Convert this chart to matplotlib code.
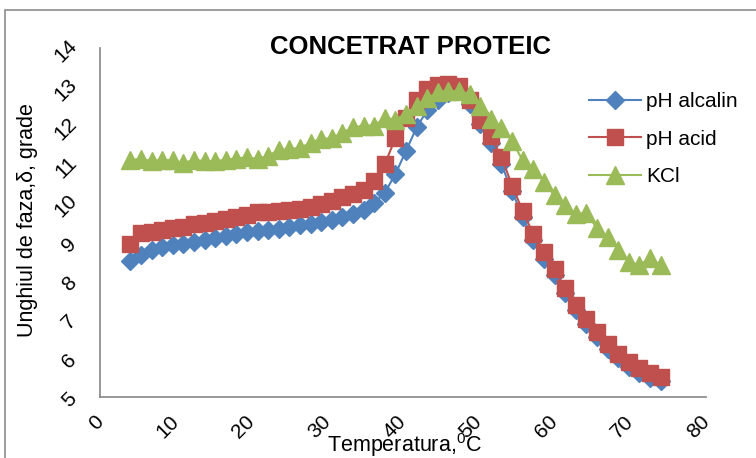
import matplotlib
matplotlib.use("Agg")
import matplotlib.pyplot as plt
from matplotlib.patches import Rectangle
from matplotlib.transforms import ScaledTranslation

plt.rcParams['font.family'] = ['Liberation Sans', 'DejaVu Sans']
plt.rcParams['mathtext.fontset'] = 'custom'
plt.rcParams['mathtext.rm'] = 'Liberation Sans'

# temperatura, grade C
temp = [4.0, 5.4, 6.8, 8.2, 9.6, 11.0, 12.4, 13.8, 15.2, 16.6, 18.0, 19.4, 20.8,
        22.2, 23.6, 25.0, 26.4, 27.8, 29.2, 30.6, 32.0, 33.4, 34.8, 36.2, 37.6,
        39.0, 40.4, 41.8, 43.2, 44.6, 46.0, 47.4, 48.8, 50.2, 51.6, 53.0, 54.4,
        55.8, 57.2, 58.6, 60.0, 61.4, 62.8, 64.2, 65.6, 67.0, 68.4, 69.8, 71.2,
        72.6, 74.0]

ph_alcalin = [8.50, 8.65, 8.78, 8.86, 8.91, 8.95, 9.00, 9.05, 9.10, 9.15, 9.20,
              9.25, 9.28, 9.30, 9.34, 9.39, 9.43, 9.47, 9.52, 9.57, 9.64, 9.72,
              9.83, 10.00, 10.27, 10.75, 11.35, 11.95, 12.40, 12.65, 12.85, 12.95,
              12.55, 12.05, 11.55, 11.00, 10.30, 9.65, 9.05, 8.55, 8.15, 7.68,
              7.25, 6.88, 6.55, 6.25, 6.00, 5.78, 5.62, 5.50, 5.40]

ph_acid = [8.94, 9.22, 9.25, 9.30, 9.35, 9.39, 9.45, 9.50, 9.55, 9.60, 9.65, 9.70,
           9.76, 9.78, 9.80, 9.82, 9.86, 9.90, 9.98, 10.06, 10.15, 10.24, 10.35,
           10.57, 11.00, 11.68, 12.20, 12.65, 12.95, 13.05, 13.07, 13.02, 12.65,
           12.15, 11.72, 11.19, 10.45, 9.80, 9.20, 8.75, 8.30, 7.80, 7.38, 7.00,
           6.67, 6.36, 6.10, 5.90, 5.74, 5.61, 5.52]

kcl = [11.10, 11.15, 11.08, 11.12, 11.10, 11.03, 11.12, 11.08, 11.08, 11.12,
       11.15, 11.18, 11.14, 11.22, 11.37, 11.40, 11.42, 11.56, 11.66, 11.67,
       11.82, 11.95, 12.00, 12.00, 12.20, 12.15, 12.30, 12.50, 12.70, 12.86,
       12.90, 12.88, 12.82, 12.50, 12.18, 11.93, 11.60, 11.10, 10.88, 10.55,
       10.20, 9.95, 9.72, 9.75, 9.35, 9.13, 8.80, 8.49, 8.40, 8.58, 8.40]

fig = plt.figure(figsize=(7.56, 4.58), dpi=100)
ax = fig.add_axes([100 / 756, 1 - 397 / 458, 606 / 756, 349 / 458])

# chenarul graficului
fig.patches.append(Rectangle((5 / 756, -0.1), 1.1, 1 - 10 / 458 + 0.1,
                             transform=fig.transFigure, fill=False,
                             edgecolor='#8c8c8c', linewidth=1.2))

ax.plot(temp, ph_alcalin, color='#4F81BD', marker='D', markersize=9.5,
        linewidth=1.5, label='pH alcalin')
ax.plot(temp, ph_acid, color='#C0504D', marker='s', markersize=11,
        linewidth=1.5, label='pH acid')
ax.plot(temp, kcl, color='#9BBB59', marker='^', markersize=12.5,
        linewidth=1.5, label='KCl')

ax.set_xlim(0, 80)
ax.set_ylim(5, 14)
ax.set_xticks(range(0, 81, 10))
ax.set_yticks(range(5, 15))
for s in ['top', 'right']:
    ax.spines[s].set_visible(False)
for s in ['left', 'bottom']:
    ax.spines[s].set_color('#868686')
    ax.spines[s].set_linewidth(1.2)
ax.tick_params(axis='both', length=0, labelsize=15)
ax.tick_params(axis='x', pad=11)
ax.tick_params(axis='y', pad=17)
dx = ScaledTranslation(7 / 100, 0, fig.dpi_scale_trans)
dy = ScaledTranslation(4 / 100, -3 / 100, fig.dpi_scale_trans)
for lab in ax.get_xticklabels():
    lab.set_rotation(45)
    lab.set_ha('right')
    lab.set_va('top')
    lab.set_transform(lab.get_transform() + dx)
for lab in ax.get_yticklabels():
    lab.set_rotation(45)
    lab.set_ha('right')
    lab.set_va('center')
    lab.set_transform(lab.get_transform() + dy)

fig.text(411 / 756, 1 - 47 / 458, 'CONCETRAT PROTEIC', fontsize=18.5,
         fontweight='bold', ha='center', va='center')
fig.text(404 / 756, 1 - 445 / 458, 'Temperatura,$^{0}$C', fontsize=15.5,
         ha='center', va='center')
fig.text(28 / 756, 1 - 220 / 458, 'Unghiul de faza,δ, grade', fontsize=15.5,
         rotation=90, ha='center', va='center')

ax.legend(loc='upper left', bbox_to_anchor=(589 / 756, 1 - 92 / 458),
          bbox_transform=fig.transFigure, frameon=False, fontsize=15,
          handlelength=2.5, handletextpad=0.25, labelspacing=0.9,
          borderpad=0, borderaxespad=0)

fig.savefig('out.png', dpi=100)
